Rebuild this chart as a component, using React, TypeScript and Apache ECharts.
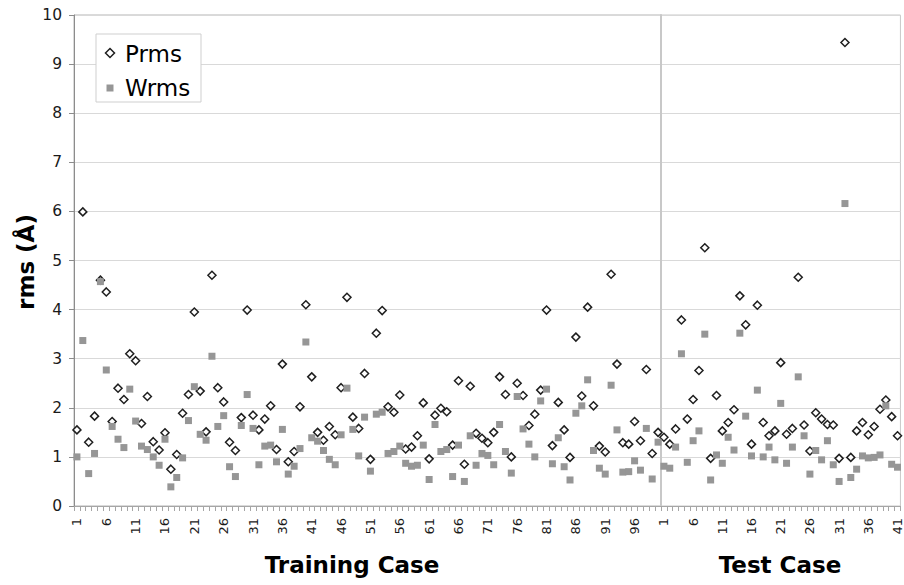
import React, { useEffect, useRef } from "react";
import * as echarts from "echarts";

// ---- Data ----
const trainingCases: string[] = Array.from({ length: 100 }, (_, i) => String(i + 1));
const testCases: string[] = Array.from({ length: 41 }, (_, i) => String(i + 1));

const prmsTraining: number[] = [
  1.55, 5.99, 1.30, 1.83, 4.60, 4.36, 1.72, 2.40, 2.17, 3.10,
  2.96, 1.68, 2.23, 1.31, 1.14, 1.49, 0.75, 1.05, 1.89, 2.27,
  3.95, 2.34, 1.51, 4.70, 2.41, 2.12, 1.30, 1.13, 1.80, 3.99,
  1.85, 1.55, 1.77, 2.04, 1.15, 2.89, 0.90, 1.11, 2.02, 4.10,
  2.63, 1.50, 1.34, 1.62, 1.45, 2.41, 4.25, 1.81, 1.58, 2.70,
  0.95, 3.52, 3.98, 2.02, 1.91, 2.26, 1.16, 1.20, 1.43, 2.10,
  0.96, 1.85, 1.99, 1.92, 1.24, 2.55, 0.85, 2.44, 1.48, 1.38,
  1.29, 1.50, 2.63, 2.27, 1.00, 2.50, 2.25, 1.64, 1.87, 2.36,
  3.99, 1.23, 2.11, 1.55, 0.99, 3.44, 2.24, 4.05, 2.04, 1.22,
  1.10, 4.72, 2.89, 1.29, 1.26, 1.72, 1.33, 2.78, 1.07, 1.50,
];

const wrmsTraining: number[] = [
  1.00, 3.37, 0.66, 1.07, 4.57, 2.77, 1.62, 1.36, 1.19, 2.38,
  1.73, 1.22, 1.15, 1.00, 0.83, 1.36, 0.39, 0.58, 0.98, 1.74,
  2.43, 1.46, 1.34, 3.05, 1.62, 1.84, 0.80, 0.60, 1.64, 2.27,
  1.58, 0.84, 1.22, 1.24, 0.90, 1.56, 0.65, 0.81, 1.17, 3.34,
  1.39, 1.32, 1.13, 0.95, 0.84, 1.45, 2.40, 1.56, 1.02, 1.81,
  0.71, 1.87, 1.91, 1.07, 1.11, 1.22, 0.87, 0.81, 0.83, 1.24,
  0.54, 1.66, 1.11, 1.15, 0.60, 1.24, 0.50, 1.43, 0.83, 1.07,
  1.03, 0.84, 1.66, 1.11, 0.67, 2.23, 1.57, 1.26, 1.00, 2.14,
  2.38, 0.86, 1.39, 0.80, 0.53, 1.89, 2.04, 2.57, 1.13, 0.77,
  0.65, 2.46, 1.55, 0.69, 0.70, 0.92, 0.73, 1.58, 0.55, 1.30,
];

const prmsTest: number[] = [
  1.40, 1.26, 1.57, 3.79, 1.77, 2.17, 2.76, 5.26, 0.97, 2.25,
  1.53, 1.70, 1.96, 4.28, 3.69, 1.26, 4.09, 1.70, 1.43, 1.53,
  2.92, 1.46, 1.58, 4.66, 1.65, 1.12, 1.90, 1.77, 1.66, 1.65,
  0.97, 9.44, 0.99, 1.53, 1.70, 1.45, 1.62, 1.97, 2.16, 1.82,
  1.43,
];

const wrmsTest: number[] = [
  0.81, 0.77, 1.20, 3.10, 0.89, 1.33, 1.53, 3.50, 0.53, 1.04,
  0.87, 1.40, 1.14, 3.52, 1.83, 1.02, 2.36, 1.00, 1.20, 0.94,
  2.09, 0.87, 1.20, 2.63, 1.43, 0.65, 1.13, 0.94, 1.33, 0.84,
  0.50, 6.16, 0.58, 0.75, 1.02, 0.98, 0.99, 1.04, 2.04, 0.85,
  0.79,
];

const yTicks = { min: 0, max: 10, interval: 1 };

const FONT = "'DejaVu Sans', Verdana, sans-serif";

export default function App() {
  const ref = useRef<HTMLDivElement>(null);

  useEffect(() => {
    if (!ref.current) return;
    const chart = echarts.init(ref.current, null, { renderer: "svg" });

    const xAxisCommon = (gridIndex: number, data: string[]) => ({
      type: "category",
      gridIndex,
      data,
      boundaryGap: true,
      axisLine: { show: true, lineStyle: { color: "#a6a6a6", width: 1 } },
      axisTick: { show: true, interval: 0, length: 5, lineStyle: { color: "#a6a6a6" } },
      axisLabel: {
        interval: 4,
        rotate: 90,
        fontSize: 13,
        color: "#1a1a1a",
        fontFamily: FONT,
        margin: 12,
      },
      splitLine: { show: false },
    });

    const prmsStyle = {
      type: "scatter",
      name: "Prms",
      symbol: "diamond",
      symbolSize: 8,
      itemStyle: { color: "#ffffff", borderColor: "#1f1f1f", borderWidth: 1.5, opacity: 1 },
      z: 3,
    };
    const wrmsStyle = {
      type: "scatter",
      name: "Wrms",
      symbol: "rect",
      symbolSize: 7,
      itemStyle: { color: "#969696", opacity: 1 },
      z: 4,
    };

    chart.setOption({
      animation: false,
      backgroundColor: "#ffffff",
      grid: [
        { left: 74, top: 15, width: 587, height: 491, show: true, borderColor: "#b5b5b5", borderWidth: 1, backgroundColor: "transparent" },
        { left: 661, top: 15, width: 240, height: 491, show: true, borderColor: "#c8c8c8", borderWidth: 1, backgroundColor: "transparent" },
      ],
      xAxis: [xAxisCommon(0, trainingCases), xAxisCommon(1, testCases)],
      yAxis: [
        {
          type: "value",
          gridIndex: 0,
          min: yTicks.min,
          max: yTicks.max,
          interval: yTicks.interval,
          axisLine: { show: true, lineStyle: { color: "#8c8c8c" } },
          axisTick: { show: true, length: 5, lineStyle: { color: "#8c8c8c" } },
          axisLabel: { fontSize: 15.5, color: "#1a1a1a", fontFamily: FONT, margin: 12 },
          splitLine: { show: true, lineStyle: { color: "#d9d9d9", width: 1 } },
        },
        {
          type: "value",
          gridIndex: 1,
          min: yTicks.min,
          max: yTicks.max,
          interval: yTicks.interval,
          axisLine: { show: true, lineStyle: { color: "#c8c8c8", width: 2 } },
          axisTick: { show: false },
          axisLabel: { show: false },
          splitLine: { show: true, lineStyle: { color: "#d9d9d9", width: 1 } },
        },
      ],
      series: [
        { ...prmsStyle, xAxisIndex: 0, yAxisIndex: 0, data: prmsTraining },
        { ...prmsStyle, xAxisIndex: 1, yAxisIndex: 1, data: prmsTest },
        { ...wrmsStyle, xAxisIndex: 0, yAxisIndex: 0, data: wrmsTraining },
        { ...wrmsStyle, xAxisIndex: 1, yAxisIndex: 1, data: wrmsTest },
      ],
      graphic: [
        // legend box
        {
          type: "rect",
          shape: { x: 96, y: 34, width: 105, height: 68 },
          style: { fill: "#ffffff", stroke: "#cfcfcf", lineWidth: 1 },
          z: 10,
        },
        {
          type: "polygon",
          shape: { points: [[110, 48.5], [114.5, 53], [110, 57.5], [105.5, 53]] },
          style: { fill: "#ffffff", stroke: "#1f1f1f", lineWidth: 1.5 },
          z: 11,
        },
        {
          type: "text",
          x: 125,
          y: 54,
          style: { text: "Prms", font: `23px ${FONT}`, fill: "#000", verticalAlign: "middle" },
          z: 11,
        },
        {
          type: "rect",
          shape: { x: 106.5, y: 84.5, width: 7, height: 7 },
          style: { fill: "#969696" },
          z: 11,
        },
        {
          type: "text",
          x: 125,
          y: 88,
          style: { text: "Wrms", font: `23px ${FONT}`, fill: "#000", verticalAlign: "middle" },
          z: 11,
        },
        // axis titles
        {
          type: "text",
          x: 352,
          y: 565,
          style: { text: "Training Case", font: `bold 23px ${FONT}`, fill: "#000", align: "center", verticalAlign: "middle" },
        },
        {
          type: "text",
          x: 780,
          y: 565,
          style: { text: "Test Case", font: `bold 23px ${FONT}`, fill: "#000", align: "center", verticalAlign: "middle" },
        },
        {
          type: "text",
          x: 26,
          y: 262,
          rotation: Math.PI / 2,
          style: { text: "rms (Å)", font: `bold 23px ${FONT}`, fill: "#000", align: "center", verticalAlign: "middle" },
        },
      ],
    });

    return () => chart.dispose();
  }, []);

  return (
    <div
      ref={ref}
      style={{ position: "fixed", left: 0, top: 0, width: 904, height: 585, background: "#fff" }}
    />
  );
}
